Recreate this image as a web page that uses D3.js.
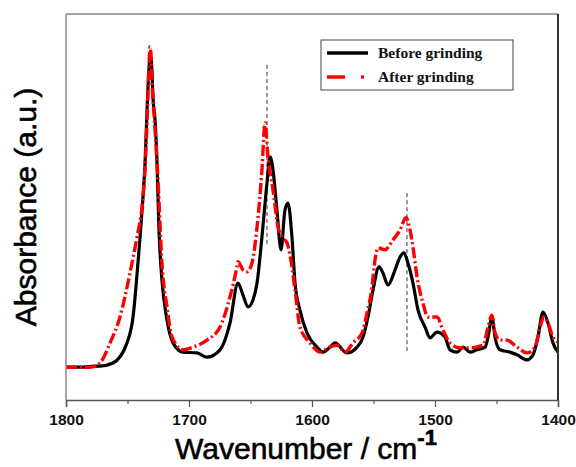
<!DOCTYPE html>
<html>
<head>
<meta charset="utf-8">
<script src="https://cdn.jsdelivr.net/npm/d3@7"></script>
<style>
  body { margin: 0; background: #fff; }
  svg { display: block; }
</style>
</head>
<body>
<script>
var width = 576,
    height = 467;

// FTIR spectra (wavenumber in cm-1, absorbance in a.u.)
var beforeWn = [1800, 1788.6, 1776.4, 1772.4, 1761.8, 1750.4, 1745.5, 1741.5, 1737.4, 1735.8,
    1734.1, 1732.5, 1731.7, 1730.9, 1730.1, 1729.3, 1727.6, 1726.0, 1724.4, 1722.0,
    1717.9, 1713.0, 1704.9, 1693.5, 1685.4, 1674.8, 1666.7, 1660.2, 1656.1, 1652.0,
    1648.0, 1644.7, 1640.7, 1636.6, 1634.1, 1631.7, 1628.5, 1625.2, 1622.0, 1619.5,
    1616.3, 1613.8, 1609.8, 1604.1, 1595.9, 1591.1, 1585.4, 1581.3, 1571.5, 1563.4,
    1558.5, 1554.5, 1550.4, 1545.5, 1542.3, 1538.2, 1532.5, 1528.5, 1525.2, 1522.0,
    1517.9, 1513.8, 1508.1, 1504.1, 1498.4, 1491.9, 1487.8, 1482.1, 1477.2, 1471.5,
    1465.9, 1459.3, 1456.9, 1453.7, 1451.2, 1447.2, 1439.0, 1433.3, 1425.2, 1420.3,
    1416.3, 1412.2, 1408.1, 1404.1, 1400];
var beforeAbs = [0.085, 0.085, 0.088, 0.088, 0.096, 0.148, 0.215, 0.355, 0.526, 0.609,
    0.751, 0.860, 0.881, 0.886, 0.850, 0.785, 0.725, 0.614, 0.440, 0.311,
    0.207, 0.148, 0.124, 0.122, 0.111, 0.130, 0.199, 0.303, 0.272, 0.241,
    0.259, 0.303, 0.422, 0.562, 0.630, 0.596, 0.492, 0.389, 0.492, 0.510,
    0.422, 0.303, 0.233, 0.174, 0.137, 0.124, 0.137, 0.148, 0.122, 0.137,
    0.163, 0.215, 0.285, 0.345, 0.329, 0.298, 0.337, 0.370, 0.381, 0.355,
    0.303, 0.233, 0.189, 0.161, 0.176, 0.163, 0.130, 0.124, 0.137, 0.124,
    0.130, 0.137, 0.163, 0.215, 0.163, 0.130, 0.124, 0.117, 0.104, 0.117,
    0.163, 0.228, 0.199, 0.148, 0.124];

var afterWn = [1800, 1780.5, 1772.4, 1764.2, 1756.1, 1748.0, 1742.3, 1738.2, 1735.8, 1734.1,
    1732.5, 1731.7, 1730.9, 1730.1, 1727.6, 1725.2, 1722.0, 1717.9, 1713.8, 1704.9,
    1696.7, 1685.4, 1674.8, 1666.7, 1661.0, 1660.2, 1656.1, 1652.8, 1648.8, 1644.7,
    1640.7, 1638.2, 1635.8, 1631.7, 1627.6, 1624.4, 1620.3, 1617.9, 1613.8, 1609.8,
    1601.6, 1593.5, 1585.4, 1579.7, 1573.2, 1566.7, 1559.3, 1555.3, 1551.2, 1548.8,
    1546.3, 1540.7, 1534.1, 1528.5, 1523.6, 1520.3, 1517.9, 1514.6, 1509.8, 1505.7,
    1498.4, 1493.5, 1487.8, 1479.7, 1471.5, 1461.0, 1456.9, 1453.7, 1451.2, 1447.2,
    1441.5, 1433.3, 1425.2, 1418.7, 1414.6, 1411.4, 1408.1, 1404.1, 1400];
var afterAbs = [0.085, 0.085, 0.096, 0.148, 0.215, 0.329, 0.422, 0.500, 0.596, 0.725,
    0.868, 0.915, 0.894, 0.829, 0.699, 0.570, 0.355, 0.241, 0.163, 0.130,
    0.137, 0.155, 0.189, 0.267, 0.345, 0.358, 0.337, 0.332, 0.355, 0.448,
    0.596, 0.718, 0.630, 0.544, 0.448, 0.422, 0.407, 0.376, 0.285, 0.189,
    0.148, 0.124, 0.137, 0.142, 0.124, 0.148, 0.174, 0.225, 0.293, 0.363,
    0.394, 0.389, 0.415, 0.440, 0.472, 0.440, 0.396, 0.319, 0.251, 0.215,
    0.215, 0.181, 0.148, 0.135, 0.135, 0.142, 0.189, 0.220, 0.174, 0.155,
    0.155, 0.137, 0.122, 0.137, 0.189, 0.215, 0.199, 0.163, 0.150];

// dashed guides at the two band positions
var markWn = [1636.6, 1522.8],
    markTop = [0.868, 0.536],
    markBottom = [0.40, 0.124];

var xTicks = [1800, 1700, 1600, 1500, 1400],
    xMinor = [1750, 1650, 1550, 1450];

var seriesNames = ["Before grinding", "After grinding"];

var margin = {top: 14, right: 18, bottom: 67, left: 66},
    plotW = width - margin.left - margin.right,
    plotH = height - margin.top - margin.bottom;

var x = d3.scaleLinear().domain([1800, 1400]).range([0, plotW]);
var y = d3.scaleLinear().domain([0, 1]).range([plotH, 0]);

var svg = d3.select("body").append("svg")
    .attr("width", width)
    .attr("height", height);

var g = svg.append("g")
    .attr("transform", "translate(" + margin.left + "," + margin.top + ")");

var line = d3.line()
    .x(function(d) { return x(d[0]); })
    .y(function(d) { return y(d[1]); })
    .curve(d3.curveMonotoneX);

// guides
g.selectAll(".mark")
    .data(markWn)
  .enter().append("line")
    .attr("class", "mark")
    .attr("x1", function(d) { return x(d); })
    .attr("x2", function(d) { return x(d); })
    .attr("y1", function(d, i) { return y(markTop[i]); })
    .attr("y2", function(d, i) { return y(markBottom[i]); })
    .attr("stroke", "#333")
    .attr("stroke-width", 1)
    .attr("stroke-dasharray", "4,3");

var before = beforeWn.map(function(w, i) { return [w, beforeAbs[i]]; }),
    after = afterWn.map(function(w, i) { return [w, afterAbs[i]]; });

g.append("path")
    .datum(before)
    .attr("d", line)
    .attr("fill", "none")
    .attr("stroke", "#000")
    .attr("stroke-width", 3.2)
    .attr("stroke-linejoin", "round");

g.append("path")
    .datum(after)
    .attr("d", line)
    .attr("fill", "none")
    .attr("stroke", "#f00")
    .attr("stroke-width", 3.4)
    .attr("stroke-dasharray", "11,3,2,3");

// frame
g.append("line").attr("x1", 0).attr("x2", plotW).attr("y1", 0).attr("y2", 0)
    .attr("stroke", "#888").attr("stroke-width", 1.5);
g.append("line").attr("x1", 0).attr("x2", 0).attr("y1", 0).attr("y2", plotH)
    .attr("stroke", "#888").attr("stroke-width", 1.5);
g.append("line").attr("x1", plotW).attr("x2", plotW).attr("y1", 0).attr("y2", plotH)
    .attr("stroke", "#333").attr("stroke-width", 2);

// x axis
var xAxis = g.append("g")
    .attr("transform", "translate(0," + plotH + ")")
    .call(d3.axisBottom(x).tickValues(xTicks).tickSize(7).tickFormat(d3.format("d")));
xAxis.select(".domain").attr("stroke", "#555").attr("stroke-width", 1.5);
xAxis.selectAll(".tick line").attr("stroke", "#555").attr("stroke-width", 1.2);
xAxis.selectAll(".tick text")
    .attr("dy", "0.75em")
    .attr("y", 13)
    .style("font-family", "'Liberation Sans', Arial, sans-serif")
    .style("font-size", "15.5px")
    .style("font-weight", "bold")
    .attr("fill", "#111");

g.append("g")
    .attr("transform", "translate(0," + plotH + ")")
    .call(d3.axisBottom(x).tickValues(xMinor).tickSize(4).tickFormat(""))
    .call(function(s) {
        s.select(".domain").remove();
        s.selectAll(".tick line").attr("stroke", "#555").attr("stroke-width", 1.2);
    });

// axis titles
var title = svg.append("text")
    .attr("x", margin.left + plotW / 2 - 6)
    .attr("y", 459)
    .attr("text-anchor", "middle")
    .style("font-family", "'Liberation Sans', Arial, sans-serif")
    .style("font-size", "30px")
    .attr("fill", "#000")
    .attr("stroke", "#000")
    .attr("stroke-width", 0.6);
title.append("tspan").text("Wavenumber / cm");
title.append("tspan")
    .attr("dy", -14)
    .style("font-size", "22px")
    .style("font-weight", "bold")
    .text("-1");

svg.append("text")
    .attr("transform", "translate(36," + (margin.top + 193) + ")rotate(-90)")
    .attr("text-anchor", "middle")
    .style("font-family", "'Liberation Sans', Arial, sans-serif")
    .style("font-size", "30px")
    .attr("fill", "#000")
    .attr("stroke", "#000")
    .attr("stroke-width", 0.6)
    .text("Absorbance (a.u.)");

// legend
var legend = svg.append("g");
legend.append("rect")
    .attr("x", 321).attr("y", 40)
    .attr("width", 192).attr("height", 50)
    .attr("fill", "#fff")
    .attr("stroke", "#444")
    .attr("stroke-width", 1);

legend.append("line")
    .attr("x1", 327).attr("x2", 368).attr("y1", 53).attr("y2", 53)
    .attr("stroke", "#000").attr("stroke-width", 3.5);
legend.append("line")
    .attr("x1", 327).attr("x2", 368).attr("y1", 77).attr("y2", 77)
    .attr("stroke", "#f00").attr("stroke-width", 3.5)
    .attr("stroke-dasharray", "18,16,3,20");

legend.selectAll(".lab")
    .data(seriesNames)
  .enter().append("text")
    .attr("class", "lab")
    .attr("x", 378)
    .attr("y", function(d, i) { return 58 + i * 24; })
    .style("font-family", "'Liberation Serif', 'Times New Roman', serif")
    .style("font-size", "15.5px")
    .style("font-weight", "bold")
    .attr("fill", "#111")
    .text(function(d) { return d; });
</script>
</body>
</html>
